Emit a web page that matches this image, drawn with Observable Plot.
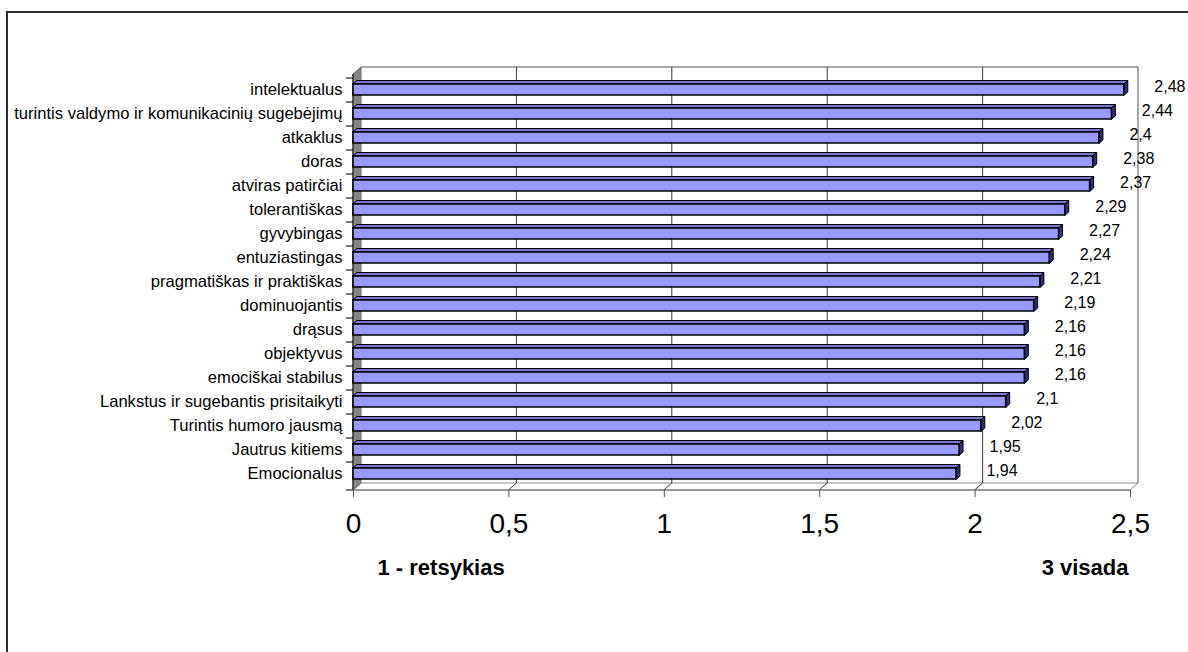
<!DOCTYPE html>
<html>
<head>
<meta charset="utf-8">
<script src="https://cdn.jsdelivr.net/npm/d3@7"></script>
<script src="https://cdn.jsdelivr.net/npm/@observablehq/plot@0.6"></script>
<style>
  html, body { margin: 0; padding: 0; background: #fff; overflow: hidden; }
  #wrap { position: relative; width: 1188px; height: 652px; overflow: hidden; }
  #border { position: absolute; left: 6px; top: 11px; width: 1300px; height: 800px;
            border-left: 2px solid #2b2b2b; border-top: 2px solid #2b2b2b; pointer-events: none; }
  #chart { position: absolute; left: 0; top: 0; }
</style>
</head>
<body>
<div id="wrap"><div id="chart"></div><div id="border"></div></div>
<script>
// Traits, ordered top to bottom as listed on the chart
const categories = [
  "intelektualus",
  "turintis valdymo ir komunikacinių sugebėjimų",
  "atkaklus",
  "doras",
  "atviras patirčiai",
  "tolerantiškas",
  "gyvybingas",
  "entuziastingas",
  "pragmatiškas ir praktiškas",
  "dominuojantis",
  "drąsus",
  "objektyvus",
  "emociškai stabilus",
  "Lankstus ir sugebantis prisitaikyti",
  "Turintis humoro jausmą",
  "Jautrus kitiems",
  "Emocionalus"
];
// Mean score per trait
const values = [2.48, 2.44, 2.4, 2.38, 2.37, 2.29, 2.27, 2.24, 2.21, 2.19, 2.16, 2.16, 2.16, 2.1, 2.02, 1.95, 1.94];
const xTicks = [0, 0.5, 1, 1.5, 2, 2.5];
const scaleEndLabels = ["1 - retsykias", "3 visada"];

const rows = categories.map((label, i) => ({label, value: values[i]}));
const fmt = d => String(d).replace(".", ",");

// 3D look: depth of the walls and of the bars
const WALL = [8, -7];
const BAR = [4, -3.5];
const BAR_INSET_TOP = 6, BAR_INSET_BOTTOM = 7;

// Side wall, back wall, floor and gridlines of the 3D box
function box(index, scales, values, dims) {
  const x = scales.x;
  const x0 = x(xTicks[0]), x1 = x(xTicks[xTicks.length - 1]);
  const yT = dims.marginTop, yB = dims.height - dims.marginBottom;
  const [dx, dy] = WALL;
  const g = d3.create("svg:g");
  // back wall
  g.append("path")
    .attr("d", `M${x0 + dx},${yT + dy}H${x1 + dx}V${yB + dy}`)
    .attr("fill", "none").attr("stroke", "#8c8c8c").attr("stroke-width", 1.5);
  // floor
  g.append("path")
    .attr("d", `M${x0},${yB}L${x0 + dx},${yB + dy}H${x1 + dx}L${x1},${yB}Z`)
    .attr("fill", "#fff").attr("stroke", "#8c8c8c").attr("stroke-width", 1);
  // gridlines on the back wall and across the floor
  for (const t of xTicks.slice(1, -1)) {
    const xt = x(t);
    g.append("line")
      .attr("x1", xt + dx).attr("x2", xt + dx).attr("y1", yT + dy).attr("y2", yB + dy)
      .attr("stroke", "#3a3a3a").attr("stroke-width", 1);
    g.append("line")
      .attr("x1", xt).attr("y1", yB).attr("x2", xt + dx).attr("y2", yB + dy)
      .attr("stroke", "#3a3a3a").attr("stroke-width", 1);
  }
  // left side wall
  g.append("path")
    .attr("d", `M${x0},${yT}L${x0 + dx},${yT + dy}V${yB + dy}L${x0},${yB}Z`)
    .attr("fill", "#858585").attr("stroke", "#6a6a6a").attr("stroke-width", 1);
  return g.node();
}

// Category axis line with ticks on the band boundaries
function yAxisLine(index, scales, values, dims) {
  const x = scales.x, y = scales.y;
  const x0 = x(xTicks[0]);
  const yT = dims.marginTop, yB = dims.height - dims.marginBottom;
  const g = d3.create("svg:g").attr("stroke", "#222").attr("stroke-width", 1.2);
  g.append("line").attr("x1", x0).attr("x2", x0).attr("y1", yT).attr("y2", yB);
  g.append("line").attr("x1", x0).attr("x2", x(xTicks[xTicks.length - 1])).attr("y1", yB).attr("y2", yB).attr("stroke", "#666");
  for (let i = 0; i <= categories.length; i++) {
    const yy = i < categories.length ? y(categories[i]) : yB;
    g.append("line").attr("x1", x0 - 7).attr("x2", x0).attr("y1", yy).attr("y2", yy);
  }
  return g.node();
}

// Top and right faces of each bar
function barFaces(index, scales, values, dims) {
  const x = scales.x, y = scales.y;
  const yT = dims.marginTop, yB = dims.height - dims.marginBottom;
  const bw = (yB - yT) / categories.length;
  const [dx, dy] = BAR;
  const g = d3.create("svg:g").attr("stroke", "#000").attr("stroke-width", 1).attr("stroke-linejoin", "round");
  rows.forEach(r => {
    const xl = x(0), xr = x(r.value);
    const top = y(r.label) + BAR_INSET_TOP, bot = y(r.label) + bw - BAR_INSET_BOTTOM;
    g.append("path")
      .attr("d", `M${xl},${top}L${xl + dx},${top + dy}H${xr + dx}L${xr},${top}Z`)
      .attr("fill", "#7a7ad6");
    g.append("path")
      .attr("d", `M${xr},${top}L${xr + dx},${top + dy}V${bot + dy}L${xr},${bot}Z`)
      .attr("fill", "#2e2e7a");
  });
  return g.node();
}

const chart = Plot.plot({
  width: 1188,
  height: 652,
  marginLeft: 353,
  marginRight: 58,
  marginTop: 74,
  marginBottom: 162,
  style: {fontFamily: "Arial, 'Liberation Sans', sans-serif", background: "transparent", color: "#000", overflow: "hidden"},
  x: {domain: [xTicks[0], xTicks[xTicks.length - 1]]},
  y: {domain: categories, padding: 0},
  marks: [
    box,
    Plot.axisX({ticks: xTicks, tickFormat: fmt, tickSize: 7, tickPadding: 16, fontSize: 28, label: null, stroke: "#555"}),
    Plot.axisY({tickSize: 0, tickPadding: 11, fontSize: 16.6, dy: -1, label: null}),
    yAxisLine,
    barFaces,
    Plot.barX(rows, {x: "value", y: "label", insetTop: BAR_INSET_TOP, insetBottom: BAR_INSET_BOTTOM,
                     fill: "#9999ff", stroke: "#000", strokeWidth: 1.5}),
    Plot.text(rows, {x: "value", y: "label", text: d => fmt(d.value), dx: 30, dy: -4,
                     textAnchor: "start", fontSize: 16, fill: "#000"}),
    Plot.text([{v: xTicks[0], t: scaleEndLabels[0]}], {x: "v", text: "t", frameAnchor: "bottom",
                     dx: 24, dy: 84, textAnchor: "start", fontSize: 22, fontWeight: "bold", fill: "#000"}),
    Plot.text([{v: xTicks[xTicks.length - 1], t: scaleEndLabels[1]}], {x: "v", text: "t", frameAnchor: "bottom",
                     dx: -2, dy: 84, textAnchor: "end", fontSize: 22, fontWeight: "bold", fill: "#000"})
  ]
});
document.getElementById("chart").appendChild(chart);
</script>
</body>
</html>
